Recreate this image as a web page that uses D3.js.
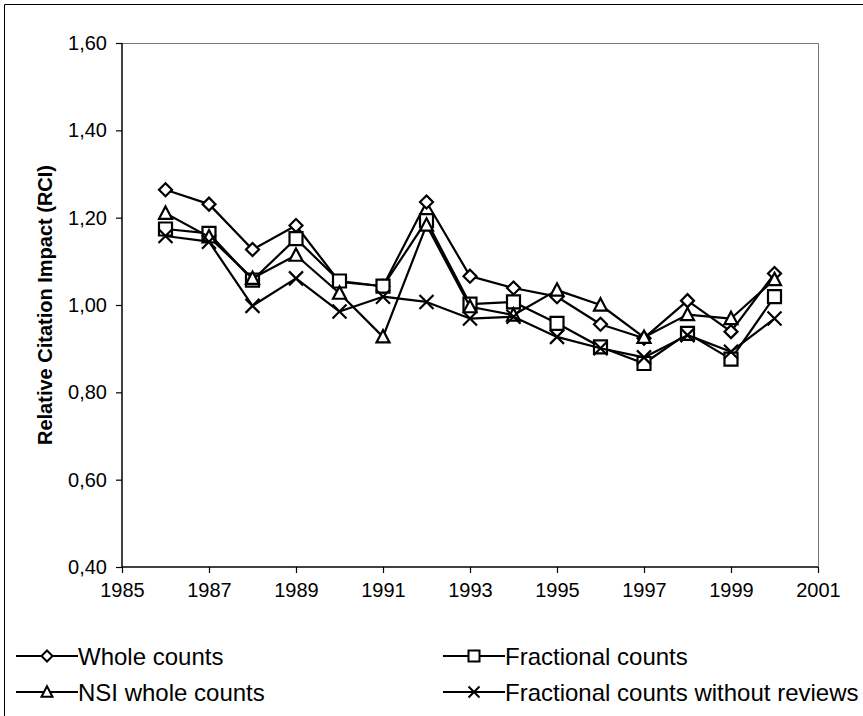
<!DOCTYPE html>
<html>
<head>
<meta charset="utf-8">
<script src="https://cdn.jsdelivr.net/npm/d3@7"></script>
<style>
  html, body { margin: 0; padding: 0; background: #fff; }
  svg { display: block; }
  text { font-family: "Liberation Sans", Arial, sans-serif; fill: #000; }
</style>
</head>
<body>
<svg id="chart" width="863" height="716"></svg>
<script>
// Relative Citation Impact by publication year, four counting methods
const years = [1986, 1987, 1988, 1989, 1990, 1991, 1992, 1993, 1994, 1995, 1996, 1997, 1998, 1999, 2000];
const wholeCounts      = [1.264, 1.231, 1.127, 1.182, 1.053, 1.043, 1.236, 1.066, 1.039, 1.019, 0.956, 0.924, 1.010, 0.939, 1.072];
const fractionalCounts = [1.174, 1.164, 1.057, 1.152, 1.055, 1.043, 1.193, 1.002, 1.007, 0.958, 0.904, 0.866, 0.935, 0.876, 1.019];
const nsiWholeCounts   = [1.210, 1.156, 1.061, 1.114, 1.027, 0.927, 1.183, 0.996, 0.977, 1.034, 1.000, 0.926, 0.978, 0.969, 1.058];
const fracNoReviews    = [1.158, 1.145, 0.998, 1.061, 0.985, 1.019, 1.007, 0.969, 0.973, 0.927, 0.901, 0.880, 0.931, 0.893, 0.969];

const seriesNames = ["Whole counts", "Fractional counts", "NSI whole counts", "Fractional counts without reviews"];
const seriesMarkers = ["diamond", "square", "triangle", "x"];
const seriesValues = [wholeCounts, fractionalCounts, nsiWholeCounts, fracNoReviews];

const xTicks = [1985, 1987, 1989, 1991, 1993, 1995, 1997, 1999, 2001];
const yTicks = [0.40, 0.60, 0.80, 1.00, 1.20, 1.40, 1.60];
const yTitle = "Relative Citation Impact (RCI)";

const svg = d3.select("#chart");

// outer chart frame
svg.append("path")
  .attr("d", "M4.5,716 V4.5 H863")
  .attr("fill", "none").attr("stroke", "#000").attr("stroke-width", 1);

const plot = { left: 122, right: 818, top: 43, bottom: 567 };

const x = d3.scaleLinear().domain([1985, 2001]).range([plot.left, plot.right]);
const y = d3.scaleLinear().domain([0.40, 1.60]).range([plot.bottom, plot.top]);

// plot-area border (top and right)
svg.append("path")
  .attr("d", `M${plot.left},${plot.top + 0.5} H${plot.right + 0.5} V${plot.bottom}`)
  .attr("fill", "none").attr("stroke", "#777").attr("stroke-width", 1);

const fmt = v => d3.format(".2f")(v).replace(".", ",");

// y axis
const yAxis = svg.append("g")
  .attr("transform", `translate(${plot.left},0)`)
  .call(d3.axisLeft(y).tickValues(yTicks).tickFormat(fmt).tickSize(6).tickPadding(9));
// x axis
const xAxis = svg.append("g")
  .attr("transform", `translate(0,${plot.bottom})`)
  .call(d3.axisBottom(x).tickValues(xTicks).tickFormat(d3.format("d")).tickSize(6).tickPadding(10));

[yAxis, xAxis].forEach(g => {
  g.select(".domain").attr("stroke", "#000").attr("stroke-width", 1.5);
  g.selectAll(".tick line").attr("stroke", "#000").attr("stroke-width", 1.2);
  g.selectAll(".tick text")
    .style("font-family", '"Liberation Sans", Arial, sans-serif')
    .style("font-size", "20px").attr("fill", "#000");
});
// the y domain path: draw as a straight line without outer ticks
yAxis.select(".domain").attr("d", `M0,${plot.top}V${plot.bottom}`);
xAxis.select(".domain").attr("d", `M${plot.left},0H${plot.right}`);

// y axis title
svg.append("text")
  .attr("transform", `translate(52,${(plot.top + plot.bottom) / 2}) rotate(-90)`)
  .attr("text-anchor", "middle")
  .style("font-size", "20px").style("font-weight", "bold")
  .text(yTitle);

// marker shapes
function markerPath(type, s) {
  const h = s / 2;
  switch (type) {
    case "diamond": return `M0,${-h}L${h},0L0,${h}L${-h},0Z`;
    case "square": return `M${-h},${-h}H${h}V${h}H${-h}Z`;
    case "triangle": return `M0,${-h * 1.05}L${h},${h * 0.85}H${-h}Z`;
    case "x": return `M${-h},${-h}L${h},${h}M${h},${-h}L${-h},${h}`;
  }
}
const markerSize = { diamond: 13, square: 13, triangle: 13, x: 14 };

const line = d3.line().x((d, i) => x(years[i])).y(d => y(d));

seriesValues.forEach((vals, si) => {
  const g = svg.append("g");
  g.append("path")
    .attr("d", line(vals))
    .attr("fill", "none").attr("stroke", "#000").attr("stroke-width", 2.2)
    .attr("stroke-linejoin", "round");
  const type = seriesMarkers[si];
  g.selectAll("path.m").data(vals).join("path")
    .attr("class", "m")
    .attr("transform", (d, i) => `translate(${x(years[i])},${y(d)})`)
    .attr("d", markerPath(type, markerSize[type]))
    .attr("fill", type === "x" ? "none" : "#fff")
    .attr("stroke", "#000").attr("stroke-width", 2.2);
});

// legend: two columns, row-major order
const legendCols = [16, 443];
const legendRows = [656, 692];
seriesNames.forEach((name, si) => {
  const lx = legendCols[si % 2];
  const ly = legendRows[Math.floor(si / 2)];
  const g = svg.append("g").attr("transform", `translate(${lx},${ly})`);
  g.append("line").attr("x1", 0).attr("x2", 62).attr("y1", 0).attr("y2", 0)
    .attr("stroke", "#000").attr("stroke-width", 2.2);
  const type = seriesMarkers[si];
  g.append("path")
    .attr("transform", "translate(31,0)")
    .attr("d", markerPath(type, 11))
    .attr("fill", type === "x" ? "none" : "#fff")
    .attr("stroke", "#000").attr("stroke-width", 2);
  g.append("text")
    .attr("x", 62).attr("y", 8.5)
    .style("font-size", "24px")
    .text(name);
});
</script>
</body>
</html>
